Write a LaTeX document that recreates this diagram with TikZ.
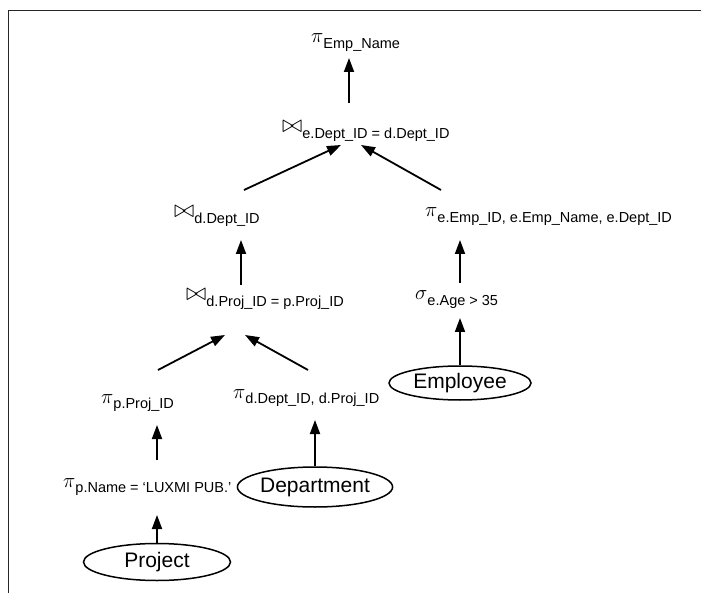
\documentclass[tikz,border=0pt]{standalone}
\usepackage{fontspec}
\setmainfont{Liberation Sans}
\usetikzlibrary{arrows.meta,shapes.geometric,calc}
\newcommand\opsym[2]{{\fontsize{20}{20}\selectfont$#1$}\raisebox{-5.5pt}{\fontsize{14.5}{14.5}\selectfont #2}}
\newcommand\joinsym[1]{{\fontsize{27}{27}\selectfont$\bowtie$}\raisebox{-5.5pt}{\fontsize{14.5}{14.5}\selectfont #1}}
\tikzset{
  opnode/.style={anchor=base west,inner sep=0pt},
  relnode/.style={draw,ellipse,line width=1.5pt,inner sep=0pt,font=\fontsize{21}{21}\selectfont},
  arr/.style={line width=1.8pt,-{Triangle[width=10pt,length=14pt]}},
  frame/.style={line width=1.6pt,black!85}
}
\begin{document}
\begin{tikzpicture}[x=1pt,y=-1pt]
\useasboundingbox (0,0) rectangle (701,593);
\draw[frame] (8.5,593) -- (8.5,10.5) -- (701,10.5);
% operator nodes
\node[opnode] (p1) at (311,43) {\opsym{\pi}{Emp\_Name}};
\node[opnode] (j1) at (282,133) {\joinsym{e.Dept\_ID = d.Dept\_ID}};
\node[opnode] (j2) at (174,218) {\joinsym{d.Dept\_ID}};
\node[opnode] (p2) at (425,217) {\opsym{\pi}{e.Emp\_ID, e.Emp\_Name, e.Dept\_ID}};
\node[opnode] (j3) at (186,301) {\joinsym{d.Proj\_ID = p.Proj\_ID}};
\node[opnode] (s1) at (415,300) {\opsym{\sigma}{e.Age > 35}};
\node[opnode] (p3) at (101,403) {\opsym{\pi}{p.Proj\_ID}};
\node[opnode] (p4) at (233,398) {\opsym{\pi}{d.Dept\_ID, d.Proj\_ID}};
\node[opnode] (p5) at (63,487) {\opsym{\pi}{p.Name = ‘LUXMI PUB.’}};
% relations
\node[relnode,minimum width=142pt,minimum height=34pt] (emp) at (460,383) {Employee};
\node[relnode,minimum width=155pt,minimum height=40pt] (dep) at (315,487) {Department};
\node[relnode,minimum width=147pt,minimum height=37pt] (proj) at (157,562) {Project};
% arrows
\draw[arr] ($(j1.base west)+(67,-30)$) -- ($(p1.base west)+(38,15)$);
\draw[arr] ($(j2.base west)+(70,-28)$) -- ($(j1.base west)+(59,12)$);
\draw[arr] ($(p2.base west)+(16,-27)$) -- ($(j1.base west)+(79,12)$);
\draw[arr] ($(j3.base west)+(55,-16)$) -- ($(j2.base west)+(67,22)$);
\draw[arr] ($(s1.base west)+(45,-17)$) -- ($(p2.base west)+(35,23)$);
\draw[arr] (emp.north) -- ($(s1.base west)+(45,18)$);
\draw[arr] ($(p3.base west)+(57,-33)$) -- ($(j3.base west)+(39,34)$);
\draw[arr] ($(p4.base west)+(75,-28)$) -- ($(j3.base west)+(59,34)$);
\draw[arr] ($(p5.base west)+(94,-27)$) -- ($(p3.base west)+(56,22)$);
\draw[arr] (dep.north) -- ($(p4.base west)+(82,22)$);
\draw[arr] (proj.north) -- ($(p5.base west)+(94,28)$);
\end{tikzpicture}
\end{document}
